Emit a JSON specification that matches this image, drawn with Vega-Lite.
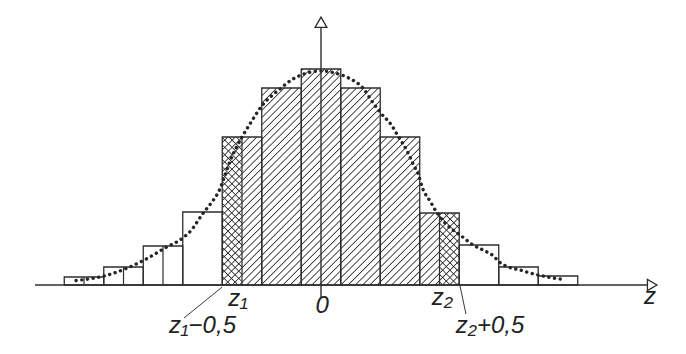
{
  "$schema": "https://vega.github.io/schema/vega-lite/v6.json",
  "width": 686,
  "height": 354,
  "padding": 0,
  "autosize": {"type": "none"},
  "background": "white",
  "config": {"view": {"stroke": null}},
  "datasets": {
    "bars": [
      {"z": -6.5, "ze": -5.5, "h": 8},
      {"z": -5.5, "ze": -4.5, "h": 18},
      {"z": -4.5, "ze": -3.5, "h": 39},
      {"z": -3.5, "ze": -2.5, "h": 73},
      {"z": -2.5, "ze": -1.5, "h": 148},
      {"z": -1.5, "ze": -0.5, "h": 197},
      {"z": -0.5, "ze": 0.5, "h": 216},
      {"z": 0.5, "ze": 1.5, "h": 197},
      {"z": 1.5, "ze": 2.5, "h": 148},
      {"z": 2.5, "ze": 3.5, "h": 72},
      {"z": 3.5, "ze": 4.5, "h": 40},
      {"z": 4.5, "ze": 5.5, "h": 18},
      {"z": 5.5, "ze": 6.5, "h": 9}
    ],
    "hatch": [
      {"z": -2.5, "h": 148},
      {"z": -1.5, "h": 197},
      {"z": -0.5, "h": 216},
      {"z": 0.5, "h": 197},
      {"z": 1.5, "h": 148},
      {"z": 2.5, "h": 72},
      {"z": 3.5, "h": 72}
    ],
    "cross": [
      {"z": -2.5, "h": 148},
      {"z": -2, "h": 0},
      {"z": 3, "h": 72},
      {"z": 3.5, "h": 72}
    ],
    "inner": [
      {"z": -6, "h": 8},
      {"z": -5, "h": 18},
      {"z": -4, "h": 39},
      {"z": -2, "h": 148},
      {"z": 3, "h": 72}
    ],
    "curve": [
      {"z": -6.2, "h": 4.5}, {"z": -5.8, "h": 6.5}, {"z": -5.4, "h": 10}, {"z": -4.9, "h": 17},
      {"z": -4.45, "h": 25.5}, {"z": -3.95, "h": 37}, {"z": -3.5, "h": 47}, {"z": -3.3, "h": 54},
      {"z": -3.0, "h": 71}, {"z": -2.8, "h": 81}, {"z": -2.56, "h": 96}, {"z": -2.43, "h": 110},
      {"z": -2.3, "h": 124}, {"z": -2.0, "h": 148}, {"z": -1.8, "h": 161}, {"z": -1.5, "h": 179},
      {"z": -1.04, "h": 196}, {"z": -0.71, "h": 206}, {"z": -0.35, "h": 212}, {"z": 0, "h": 214},
      {"z": 0.35, "h": 212}, {"z": 0.7, "h": 207}, {"z": 1.06, "h": 197}, {"z": 1.32, "h": 182},
      {"z": 1.49, "h": 173}, {"z": 1.8, "h": 159}, {"z": 1.95, "h": 149}, {"z": 2.18, "h": 134},
      {"z": 2.33, "h": 121}, {"z": 2.46, "h": 111}, {"z": 2.58, "h": 96}, {"z": 2.76, "h": 84},
      {"z": 2.94, "h": 72}, {"z": 3.14, "h": 62}, {"z": 3.34, "h": 55}, {"z": 3.52, "h": 50},
      {"z": 3.85, "h": 40}, {"z": 4.1, "h": 35}, {"z": 4.35, "h": 29.5}, {"z": 4.53, "h": 22.5},
      {"z": 4.78, "h": 17.5}, {"z": 5.04, "h": 15}, {"z": 5.29, "h": 12}, {"z": 5.62, "h": 9},
      {"z": 5.87, "h": 7}, {"z": 6.18, "h": 5.5}
    ],
    "axes": [
      {"z": -7.24, "ze": 8.26, "h": 0, "he": 0},
      {"z": 0, "ze": 0, "h": -12, "he": 258}
    ],
    "leaders": [
      {"z": -2.5, "ze": -3.47, "h": -2, "he": -33},
      {"z": 3.52, "ze": 3.67, "h": -1, "he": -29}
    ],
    "arrowUp": [{"z": 0, "h": 262.8}],
    "arrowRight": [{"z": 8.385, "h": 0}],
    "labels": [
      {"label": "z₁", "z": -2.1, "h": -14},
      {"label": "0", "z": 0.03, "h": -21},
      {"label": "z₂", "z": 3.07, "h": -13},
      {"label": "z", "z": 8.33, "h": -12},
      {"label": "z₁−0,5", "z": -3.0, "h": -41},
      {"label": "z₂+0,5", "z": 4.28, "h": -41}
    ]
  },
  "encoding": {
    "x": {"field": "z", "type": "quantitative", "scale": {"domain": [-8.127, 9.241], "nice": false, "zero": false}, "axis": null},
    "y": {"field": "h", "type": "quantitative", "scale": {"domain": [-69, 285], "nice": false, "zero": false}, "axis": null}
  },
  "layer": [
    {
      "data": {"name": "bars"},
      "mark": {"type": "rect", "fill": "#ffffff", "strokeWidth": 0},
      "encoding": {"x2": {"field": "ze"}, "y2": {"datum": 0}}
    },
    {
      "data": {"name": "hatch"},
      "mark": {
        "type": "area", "interpolate": "step-after", "opacity": 1, "fillOpacity": 1,
        "fill": {
          "gradient": "linear", "x1": 0, "y1": 0, "x2": 1.0441, "y2": 0.9516,
          "stops": [
            {"offset": 0, "color": "#ffffff"}, {"offset": 0.0026, "color": "#2a2a2a"}, {"offset": 0.0052, "color": "#ffffff"},
            {"offset": 0.016, "color": "#ffffff"}, {"offset": 0.0186, "color": "#2a2a2a"}, {"offset": 0.0212, "color": "#ffffff"},
            {"offset": 0.032, "color": "#ffffff"}, {"offset": 0.0346, "color": "#2a2a2a"}, {"offset": 0.0372, "color": "#ffffff"},
            {"offset": 0.048, "color": "#ffffff"}, {"offset": 0.0506, "color": "#2a2a2a"}, {"offset": 0.0532, "color": "#ffffff"},
            {"offset": 0.064, "color": "#ffffff"}, {"offset": 0.0666, "color": "#2a2a2a"}, {"offset": 0.0692, "color": "#ffffff"},
            {"offset": 0.08, "color": "#ffffff"}, {"offset": 0.0826, "color": "#2a2a2a"}, {"offset": 0.0852, "color": "#ffffff"},
            {"offset": 0.096, "color": "#ffffff"}, {"offset": 0.0986, "color": "#2a2a2a"}, {"offset": 0.1012, "color": "#ffffff"},
            {"offset": 0.112, "color": "#ffffff"}, {"offset": 0.1146, "color": "#2a2a2a"}, {"offset": 0.1172, "color": "#ffffff"},
            {"offset": 0.128, "color": "#ffffff"}, {"offset": 0.1306, "color": "#2a2a2a"}, {"offset": 0.1332, "color": "#ffffff"},
            {"offset": 0.144, "color": "#ffffff"}, {"offset": 0.1466, "color": "#2a2a2a"}, {"offset": 0.1492, "color": "#ffffff"},
            {"offset": 0.16, "color": "#ffffff"}, {"offset": 0.1626, "color": "#2a2a2a"}, {"offset": 0.1652, "color": "#ffffff"},
            {"offset": 0.176, "color": "#ffffff"}, {"offset": 0.1786, "color": "#2a2a2a"}, {"offset": 0.1812, "color": "#ffffff"},
            {"offset": 0.192, "color": "#ffffff"}, {"offset": 0.1946, "color": "#2a2a2a"}, {"offset": 0.1972, "color": "#ffffff"},
            {"offset": 0.208, "color": "#ffffff"}, {"offset": 0.2106, "color": "#2a2a2a"}, {"offset": 0.2132, "color": "#ffffff"},
            {"offset": 0.224, "color": "#ffffff"}, {"offset": 0.2266, "color": "#2a2a2a"}, {"offset": 0.2292, "color": "#ffffff"},
            {"offset": 0.24, "color": "#ffffff"}, {"offset": 0.2426, "color": "#2a2a2a"}, {"offset": 0.2452, "color": "#ffffff"},
            {"offset": 0.256, "color": "#ffffff"}, {"offset": 0.2586, "color": "#2a2a2a"}, {"offset": 0.2612, "color": "#ffffff"},
            {"offset": 0.272, "color": "#ffffff"}, {"offset": 0.2746, "color": "#2a2a2a"}, {"offset": 0.2772, "color": "#ffffff"},
            {"offset": 0.288, "color": "#ffffff"}, {"offset": 0.2906, "color": "#2a2a2a"}, {"offset": 0.2932, "color": "#ffffff"},
            {"offset": 0.304, "color": "#ffffff"}, {"offset": 0.3066, "color": "#2a2a2a"}, {"offset": 0.3092, "color": "#ffffff"},
            {"offset": 0.32, "color": "#ffffff"}, {"offset": 0.3226, "color": "#2a2a2a"}, {"offset": 0.3252, "color": "#ffffff"},
            {"offset": 0.336, "color": "#ffffff"}, {"offset": 0.3386, "color": "#2a2a2a"}, {"offset": 0.3412, "color": "#ffffff"},
            {"offset": 0.352, "color": "#ffffff"}, {"offset": 0.3546, "color": "#2a2a2a"}, {"offset": 0.3572, "color": "#ffffff"},
            {"offset": 0.368, "color": "#ffffff"}, {"offset": 0.3706, "color": "#2a2a2a"}, {"offset": 0.3732, "color": "#ffffff"},
            {"offset": 0.384, "color": "#ffffff"}, {"offset": 0.3866, "color": "#2a2a2a"}, {"offset": 0.3892, "color": "#ffffff"},
            {"offset": 0.4, "color": "#ffffff"}, {"offset": 0.4026, "color": "#2a2a2a"}, {"offset": 0.4052, "color": "#ffffff"},
            {"offset": 0.416, "color": "#ffffff"}, {"offset": 0.4186, "color": "#2a2a2a"}, {"offset": 0.4212, "color": "#ffffff"},
            {"offset": 0.432, "color": "#ffffff"}, {"offset": 0.4346, "color": "#2a2a2a"}, {"offset": 0.4372, "color": "#ffffff"},
            {"offset": 0.448, "color": "#ffffff"}, {"offset": 0.4506, "color": "#2a2a2a"}, {"offset": 0.4532, "color": "#ffffff"},
            {"offset": 0.464, "color": "#ffffff"}, {"offset": 0.4666, "color": "#2a2a2a"}, {"offset": 0.4692, "color": "#ffffff"},
            {"offset": 0.48, "color": "#ffffff"}, {"offset": 0.4826, "color": "#2a2a2a"}, {"offset": 0.4852, "color": "#ffffff"},
            {"offset": 0.496, "color": "#ffffff"}, {"offset": 0.4986, "color": "#2a2a2a"}, {"offset": 0.5012, "color": "#ffffff"},
            {"offset": 0.512, "color": "#ffffff"}, {"offset": 0.5146, "color": "#2a2a2a"}, {"offset": 0.5172, "color": "#ffffff"},
            {"offset": 0.528, "color": "#ffffff"}, {"offset": 0.5306, "color": "#2a2a2a"}, {"offset": 0.5332, "color": "#ffffff"},
            {"offset": 0.544, "color": "#ffffff"}, {"offset": 0.5466, "color": "#2a2a2a"}, {"offset": 0.5492, "color": "#ffffff"},
            {"offset": 0.56, "color": "#ffffff"}, {"offset": 0.5626, "color": "#2a2a2a"}, {"offset": 0.5652, "color": "#ffffff"},
            {"offset": 0.576, "color": "#ffffff"}, {"offset": 0.5786, "color": "#2a2a2a"}, {"offset": 0.5812, "color": "#ffffff"},
            {"offset": 0.592, "color": "#ffffff"}, {"offset": 0.5946, "color": "#2a2a2a"}, {"offset": 0.5972, "color": "#ffffff"},
            {"offset": 0.608, "color": "#ffffff"}, {"offset": 0.6106, "color": "#2a2a2a"}, {"offset": 0.6132, "color": "#ffffff"},
            {"offset": 0.624, "color": "#ffffff"}, {"offset": 0.6266, "color": "#2a2a2a"}, {"offset": 0.6292, "color": "#ffffff"},
            {"offset": 0.64, "color": "#ffffff"}, {"offset": 0.6426, "color": "#2a2a2a"}, {"offset": 0.6452, "color": "#ffffff"},
            {"offset": 0.656, "color": "#ffffff"}, {"offset": 0.6586, "color": "#2a2a2a"}, {"offset": 0.6612, "color": "#ffffff"},
            {"offset": 0.672, "color": "#ffffff"}, {"offset": 0.6746, "color": "#2a2a2a"}, {"offset": 0.6772, "color": "#ffffff"},
            {"offset": 0.688, "color": "#ffffff"}, {"offset": 0.6906, "color": "#2a2a2a"}, {"offset": 0.6932, "color": "#ffffff"},
            {"offset": 0.704, "color": "#ffffff"}, {"offset": 0.7066, "color": "#2a2a2a"}, {"offset": 0.7092, "color": "#ffffff"},
            {"offset": 0.72, "color": "#ffffff"}, {"offset": 0.7226, "color": "#2a2a2a"}, {"offset": 0.7252, "color": "#ffffff"},
            {"offset": 0.736, "color": "#ffffff"}, {"offset": 0.7386, "color": "#2a2a2a"}, {"offset": 0.7412, "color": "#ffffff"},
            {"offset": 0.752, "color": "#ffffff"}, {"offset": 0.7546, "color": "#2a2a2a"}, {"offset": 0.7572, "color": "#ffffff"},
            {"offset": 0.768, "color": "#ffffff"}, {"offset": 0.7706, "color": "#2a2a2a"}, {"offset": 0.7732, "color": "#ffffff"},
            {"offset": 0.784, "color": "#ffffff"}, {"offset": 0.7866, "color": "#2a2a2a"}, {"offset": 0.7892, "color": "#ffffff"},
            {"offset": 0.8, "color": "#ffffff"}, {"offset": 0.8026, "color": "#2a2a2a"}, {"offset": 0.8052, "color": "#ffffff"},
            {"offset": 0.816, "color": "#ffffff"}, {"offset": 0.8186, "color": "#2a2a2a"}, {"offset": 0.8212, "color": "#ffffff"},
            {"offset": 0.832, "color": "#ffffff"}, {"offset": 0.8346, "color": "#2a2a2a"}, {"offset": 0.8372, "color": "#ffffff"},
            {"offset": 0.848, "color": "#ffffff"}, {"offset": 0.8506, "color": "#2a2a2a"}, {"offset": 0.8532, "color": "#ffffff"},
            {"offset": 0.864, "color": "#ffffff"}, {"offset": 0.8666, "color": "#2a2a2a"}, {"offset": 0.8692, "color": "#ffffff"},
            {"offset": 0.88, "color": "#ffffff"}, {"offset": 0.8826, "color": "#2a2a2a"}, {"offset": 0.8852, "color": "#ffffff"},
            {"offset": 0.896, "color": "#ffffff"}, {"offset": 0.8986, "color": "#2a2a2a"}, {"offset": 0.9012, "color": "#ffffff"},
            {"offset": 0.912, "color": "#ffffff"}, {"offset": 0.9146, "color": "#2a2a2a"}, {"offset": 0.9172, "color": "#ffffff"},
            {"offset": 0.928, "color": "#ffffff"}, {"offset": 0.9306, "color": "#2a2a2a"}, {"offset": 0.9332, "color": "#ffffff"},
            {"offset": 0.944, "color": "#ffffff"}, {"offset": 0.9466, "color": "#2a2a2a"}, {"offset": 0.9492, "color": "#ffffff"},
            {"offset": 0.96, "color": "#ffffff"}, {"offset": 0.9626, "color": "#2a2a2a"}, {"offset": 0.9652, "color": "#ffffff"},
            {"offset": 0.976, "color": "#ffffff"}, {"offset": 0.9786, "color": "#2a2a2a"}, {"offset": 0.9812, "color": "#ffffff"},
            {"offset": 0.992, "color": "#ffffff"}, {"offset": 0.9946, "color": "#2a2a2a"}, {"offset": 0.9972, "color": "#ffffff"},
            {"offset": 1, "color": "#ffffff"}
          ]
        }
      }
    },
    {
      "data": {"name": "cross"},
      "mark": {
        "type": "area", "interpolate": "step-after", "opacity": 1, "fillOpacity": 1,
        "fill": {
          "gradient": "linear", "x1": 0, "y1": 1, "x2": 1.1687, "y2": 0.2702,
          "stops": [
            {"offset": 0, "color": "rgba(42,42,42,0)"}, {"offset": 0.003, "color": "#2a2a2a"}, {"offset": 0.006, "color": "rgba(42,42,42,0)"},
            {"offset": 0.019, "color": "rgba(42,42,42,0)"}, {"offset": 0.022, "color": "#2a2a2a"}, {"offset": 0.025, "color": "rgba(42,42,42,0)"},
            {"offset": 0.038, "color": "rgba(42,42,42,0)"}, {"offset": 0.041, "color": "#2a2a2a"}, {"offset": 0.044, "color": "rgba(42,42,42,0)"},
            {"offset": 0.057, "color": "rgba(42,42,42,0)"}, {"offset": 0.06, "color": "#2a2a2a"}, {"offset": 0.063, "color": "rgba(42,42,42,0)"},
            {"offset": 0.076, "color": "rgba(42,42,42,0)"}, {"offset": 0.079, "color": "#2a2a2a"}, {"offset": 0.082, "color": "rgba(42,42,42,0)"},
            {"offset": 0.095, "color": "rgba(42,42,42,0)"}, {"offset": 0.098, "color": "#2a2a2a"}, {"offset": 0.101, "color": "rgba(42,42,42,0)"},
            {"offset": 0.114, "color": "rgba(42,42,42,0)"}, {"offset": 0.117, "color": "#2a2a2a"}, {"offset": 0.12, "color": "rgba(42,42,42,0)"},
            {"offset": 0.133, "color": "rgba(42,42,42,0)"}, {"offset": 0.136, "color": "#2a2a2a"}, {"offset": 0.139, "color": "rgba(42,42,42,0)"},
            {"offset": 0.152, "color": "rgba(42,42,42,0)"}, {"offset": 0.155, "color": "#2a2a2a"}, {"offset": 0.158, "color": "rgba(42,42,42,0)"},
            {"offset": 0.171, "color": "rgba(42,42,42,0)"}, {"offset": 0.174, "color": "#2a2a2a"}, {"offset": 0.177, "color": "rgba(42,42,42,0)"},
            {"offset": 0.19, "color": "rgba(42,42,42,0)"}, {"offset": 0.193, "color": "#2a2a2a"}, {"offset": 0.196, "color": "rgba(42,42,42,0)"},
            {"offset": 0.209, "color": "rgba(42,42,42,0)"}, {"offset": 0.212, "color": "#2a2a2a"}, {"offset": 0.215, "color": "rgba(42,42,42,0)"},
            {"offset": 0.228, "color": "rgba(42,42,42,0)"}, {"offset": 0.231, "color": "#2a2a2a"}, {"offset": 0.234, "color": "rgba(42,42,42,0)"},
            {"offset": 0.247, "color": "rgba(42,42,42,0)"}, {"offset": 0.25, "color": "#2a2a2a"}, {"offset": 0.253, "color": "rgba(42,42,42,0)"},
            {"offset": 0.266, "color": "rgba(42,42,42,0)"}, {"offset": 0.269, "color": "#2a2a2a"}, {"offset": 0.272, "color": "rgba(42,42,42,0)"},
            {"offset": 0.285, "color": "rgba(42,42,42,0)"}, {"offset": 0.288, "color": "#2a2a2a"}, {"offset": 0.291, "color": "rgba(42,42,42,0)"},
            {"offset": 0.304, "color": "rgba(42,42,42,0)"}, {"offset": 0.307, "color": "#2a2a2a"}, {"offset": 0.31, "color": "rgba(42,42,42,0)"},
            {"offset": 0.323, "color": "rgba(42,42,42,0)"}, {"offset": 0.326, "color": "#2a2a2a"}, {"offset": 0.329, "color": "rgba(42,42,42,0)"},
            {"offset": 0.342, "color": "rgba(42,42,42,0)"}, {"offset": 0.345, "color": "#2a2a2a"}, {"offset": 0.348, "color": "rgba(42,42,42,0)"},
            {"offset": 0.361, "color": "rgba(42,42,42,0)"}, {"offset": 0.364, "color": "#2a2a2a"}, {"offset": 0.367, "color": "rgba(42,42,42,0)"},
            {"offset": 0.38, "color": "rgba(42,42,42,0)"}, {"offset": 0.383, "color": "#2a2a2a"}, {"offset": 0.386, "color": "rgba(42,42,42,0)"},
            {"offset": 0.399, "color": "rgba(42,42,42,0)"}, {"offset": 0.402, "color": "#2a2a2a"}, {"offset": 0.405, "color": "rgba(42,42,42,0)"},
            {"offset": 0.418, "color": "rgba(42,42,42,0)"}, {"offset": 0.421, "color": "#2a2a2a"}, {"offset": 0.424, "color": "rgba(42,42,42,0)"},
            {"offset": 0.437, "color": "rgba(42,42,42,0)"}, {"offset": 0.44, "color": "#2a2a2a"}, {"offset": 0.443, "color": "rgba(42,42,42,0)"},
            {"offset": 0.551, "color": "rgba(42,42,42,0)"}, {"offset": 0.554, "color": "#2a2a2a"}, {"offset": 0.557, "color": "rgba(42,42,42,0)"},
            {"offset": 0.57, "color": "rgba(42,42,42,0)"}, {"offset": 0.573, "color": "#2a2a2a"}, {"offset": 0.576, "color": "rgba(42,42,42,0)"},
            {"offset": 0.589, "color": "rgba(42,42,42,0)"}, {"offset": 0.592, "color": "#2a2a2a"}, {"offset": 0.595, "color": "rgba(42,42,42,0)"},
            {"offset": 0.608, "color": "rgba(42,42,42,0)"}, {"offset": 0.611, "color": "#2a2a2a"}, {"offset": 0.614, "color": "rgba(42,42,42,0)"},
            {"offset": 0.627, "color": "rgba(42,42,42,0)"}, {"offset": 0.63, "color": "#2a2a2a"}, {"offset": 0.633, "color": "rgba(42,42,42,0)"},
            {"offset": 0.646, "color": "rgba(42,42,42,0)"}, {"offset": 0.649, "color": "#2a2a2a"}, {"offset": 0.652, "color": "rgba(42,42,42,0)"},
            {"offset": 0.665, "color": "rgba(42,42,42,0)"}, {"offset": 0.668, "color": "#2a2a2a"}, {"offset": 0.671, "color": "rgba(42,42,42,0)"},
            {"offset": 0.684, "color": "rgba(42,42,42,0)"}, {"offset": 0.687, "color": "#2a2a2a"}, {"offset": 0.69, "color": "rgba(42,42,42,0)"},
            {"offset": 0.703, "color": "rgba(42,42,42,0)"}, {"offset": 0.706, "color": "#2a2a2a"}, {"offset": 0.709, "color": "rgba(42,42,42,0)"},
            {"offset": 0.722, "color": "rgba(42,42,42,0)"}, {"offset": 0.725, "color": "#2a2a2a"}, {"offset": 0.728, "color": "rgba(42,42,42,0)"},
            {"offset": 0.741, "color": "rgba(42,42,42,0)"}, {"offset": 0.744, "color": "#2a2a2a"}, {"offset": 0.747, "color": "rgba(42,42,42,0)"},
            {"offset": 0.76, "color": "rgba(42,42,42,0)"}, {"offset": 0.763, "color": "#2a2a2a"}, {"offset": 0.766, "color": "rgba(42,42,42,0)"},
            {"offset": 0.779, "color": "rgba(42,42,42,0)"}, {"offset": 0.782, "color": "#2a2a2a"}, {"offset": 0.785, "color": "rgba(42,42,42,0)"},
            {"offset": 0.798, "color": "rgba(42,42,42,0)"}, {"offset": 0.801, "color": "#2a2a2a"}, {"offset": 0.804, "color": "rgba(42,42,42,0)"},
            {"offset": 0.817, "color": "rgba(42,42,42,0)"}, {"offset": 0.82, "color": "#2a2a2a"}, {"offset": 0.823, "color": "rgba(42,42,42,0)"},
            {"offset": 1, "color": "rgba(42,42,42,0)"}
          ]
        }
      }
    },
    {
      "data": {"name": "bars"},
      "mark": {"type": "rect", "filled": false, "stroke": "#2e2e2e", "strokeWidth": 1.3},
      "encoding": {"x2": {"field": "ze"}, "y2": {"datum": 0}}
    },
    {
      "data": {"name": "inner"},
      "mark": {"type": "rule", "stroke": "#2e2e2e", "strokeWidth": 1.2},
      "encoding": {"y2": {"datum": 0}}
    },
    {
      "data": {"name": "curve"},
      "mark": {"type": "line", "interpolate": "monotone", "stroke": "#262626", "strokeWidth": 3.4, "strokeDash": [0.1, 5.6], "strokeCap": "round"}
    },
    {
      "data": {"name": "axes"},
      "mark": {"type": "rule", "stroke": "#2e2e2e", "strokeWidth": 1.4},
      "encoding": {"x2": {"field": "ze"}, "y2": {"field": "he"}}
    },
    {
      "data": {"name": "leaders"},
      "mark": {"type": "rule", "stroke": "#3a3a3a", "strokeWidth": 1},
      "encoding": {"x2": {"field": "ze"}, "y2": {"field": "he"}}
    },
    {
      "data": {"name": "arrowUp"},
      "mark": {"type": "point", "shape": "triangle-up", "size": 140, "filled": true, "fill": "#ffffff", "stroke": "#2e2e2e", "strokeWidth": 1.3, "opacity": 1}
    },
    {
      "data": {"name": "arrowRight"},
      "mark": {"type": "point", "shape": "triangle-right", "size": 121, "filled": true, "fill": "#ffffff", "stroke": "#2e2e2e", "strokeWidth": 1.3, "opacity": 1}
    },
    {
      "data": {"name": "labels"},
      "mark": {"type": "text", "font": "Liberation Sans, DejaVu Sans", "fontStyle": "italic", "fontSize": 24, "fill": "#222222", "align": "center", "baseline": "middle"},
      "encoding": {"text": {"field": "label"}}
    }
  ]
}
